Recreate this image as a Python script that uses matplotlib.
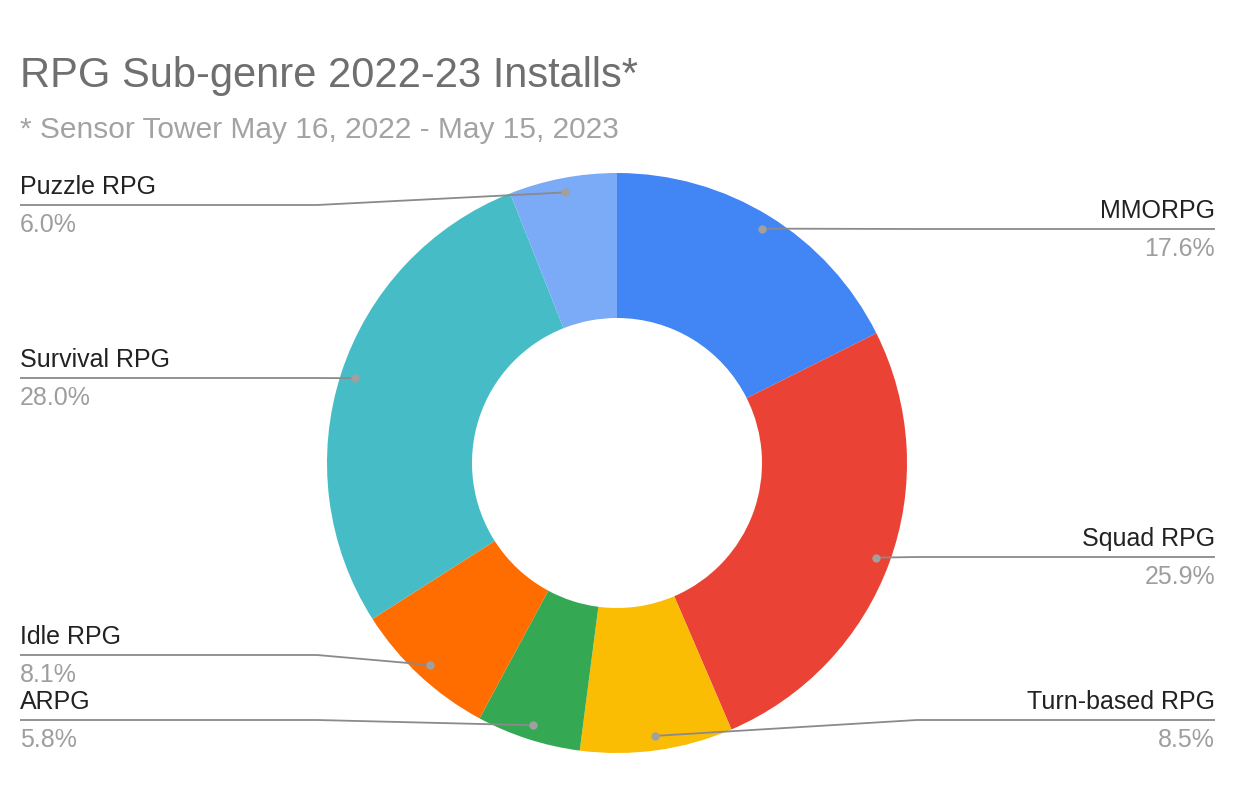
import numpy as np
import matplotlib
matplotlib.use("Agg")
import matplotlib.pyplot as plt

# ---- data ----
categories = ["MMORPG", "Squad RPG", "Turn-based RPG", "ARPG", "Idle RPG", "Survival RPG", "Puzzle RPG"]
shares = [17.6, 25.9, 8.5, 5.8, 8.1, 28.0, 6.0]
colors = ["#4285F4", "#EA4335", "#FBBC04", "#34A853", "#FF6D01", "#46BDC6", "#7BAAF7"]
title = "RPG Sub-genre 2022-23 Installs*"
subtitle = "* Sensor Tower May 16, 2022 - May 15, 2023"

# ---- layout (pixel coordinates, y from top) ----
W, H = 1241, 805
cx, cy = 617, 463
R = 290
label_side = ["right", "right", "right", "left", "left", "left", "left"]
label_y = [229, 557, 720, 720, 655, 378, 205]

plt.rcParams['font.family'] = ['Liberation Sans', 'DejaVu Sans']

fig = plt.figure(figsize=(W / 100, H / 100), dpi=100)
ax = fig.add_axes([0, 0, 1, 1])

ax.pie(shares, colors=colors, startangle=90, counterclock=False,
       radius=R, center=(cx, H - cy),
       wedgeprops=dict(width=R * 0.5, edgecolor='none', linewidth=0))

ax.set_xlim(0, W)
ax.set_ylim(0, H)
ax.set_aspect('equal')
ax.axis('off')

total = sum(shares)
cum = 0.0
line_col = "#8a8a8a"
for name, v, side, ly in zip(categories, shares, label_side, label_y):
    mid = np.deg2rad(90 - 360 * (cum + v / 2) / total)
    cum += v
    dx = cx + 0.95 * R * np.cos(mid)
    dy = cy - 0.95 * R * np.sin(mid)
    if side == "right":
        ex, edge = cx + R + 10, 1215
        ha = "right"
    else:
        ex, edge = cx - R - 10, 20
        ha = "left"
    ax.plot([dx, ex, edge], [H - dy, H - ly, H - ly], color=line_col, lw=1.3,
            solid_capstyle='butt', zorder=3)
    ax.plot([dx], [H - dy], 'o', color="#a0a0a0", ms=6, mec='none', zorder=4)
    ax.text(edge, H - ly + 11, name, ha=ha, va="baseline", fontsize=18, color="#222222")
    ax.text(edge, H - ly - 8, f"{v:.1f}%", ha=ha, va="top", fontsize=18, color="#9e9e9e")

fig.text(20 / W, 1 - 87 / H, title, ha="left", va="baseline", fontsize=30, color="#6f6f6f")
fig.text(20 / W, 1 - 138 / H, subtitle, ha="left", va="baseline", fontsize=21.5, color="#a3a3a3")

fig.savefig("out.png", dpi=100, facecolor="white")
